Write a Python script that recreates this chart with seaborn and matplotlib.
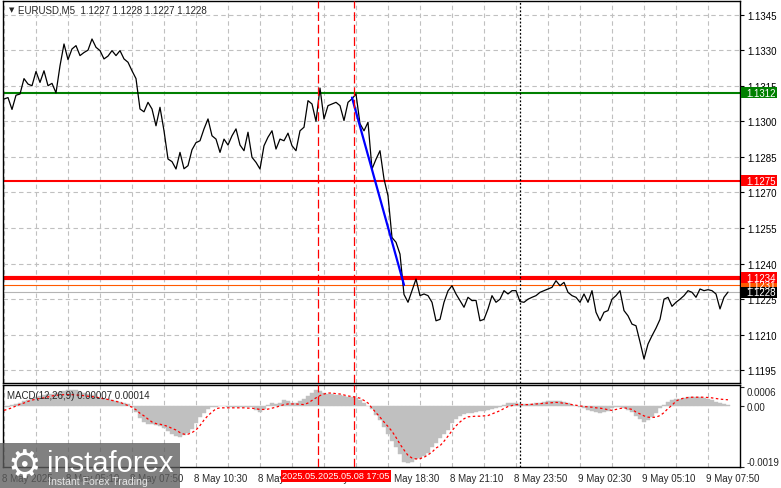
import numpy as np
import pandas as pd
import matplotlib
matplotlib.use("Agg")
import matplotlib.pyplot as plt
import matplotlib.dates as mdates
import matplotlib.transforms as mtransforms
from matplotlib.patches import Rectangle
import seaborn as sns

# EURUSD M5 closes, one value every 10 minutes from 8 May 02:30
close = [
    1.13094, 1.13100, 1.13050, 1.13110, 1.13115, 1.13180, 1.13157, 1.13150, 1.13210, 1.13164,
    1.13213, 1.13150, 1.13160, 1.13120, 1.13234, 1.13326, 1.13260, 1.13305, 1.13319, 1.13277,
    1.13290, 1.13300, 1.13347, 1.13312, 1.13298, 1.13263, 1.13275, 1.13298, 1.13277, 1.13298,
    1.13263, 1.13249, 1.13213, 1.13180, 1.13052, 1.13040, 1.13080, 1.13052, 1.12981, 1.13059,
    1.12960, 1.12841, 1.12830, 1.12799, 1.12869, 1.12800, 1.12813, 1.12880, 1.12910, 1.12918,
    1.12968, 1.13010, 1.12939, 1.12925, 1.12869, 1.12925, 1.12900, 1.12939, 1.12968, 1.12900,
    1.12876, 1.12954, 1.12848, 1.12827, 1.12799, 1.12897, 1.12933, 1.12960, 1.12883, 1.12925,
    1.12918, 1.12950, 1.12897, 1.12876, 1.12960, 1.12975, 1.13087, 1.13073, 1.13000, 1.13140,
    1.13010, 1.13066, 1.13073, 1.13080, 1.13066, 1.13003, 1.13080, 1.13095, 1.13115, 1.12990,
    1.12960, 1.12996, 1.12799, 1.12840, 1.12876, 1.12757, 1.12686, 1.12510, 1.12490, 1.12440,
    1.12270, 1.12237, 1.12286, 1.12335, 1.12265, 1.12272, 1.12265, 1.12237, 1.12159, 1.12165,
    1.12237, 1.12285, 1.12307, 1.12272, 1.12244, 1.12216, 1.12258, 1.12244, 1.12245, 1.12159,
    1.12165, 1.12209, 1.12265, 1.12237, 1.12250, 1.12286, 1.12272, 1.12286, 1.12286, 1.12240,
    1.12237, 1.12250, 1.12258, 1.12265, 1.12279, 1.12286, 1.12293, 1.12300, 1.12328, 1.12307,
    1.12321, 1.12279, 1.12265, 1.12258, 1.12237, 1.12272, 1.12237, 1.12286, 1.12195, 1.12159,
    1.12195, 1.12202, 1.12250, 1.12265, 1.12286, 1.12202, 1.12180, 1.12145, 1.12138, 1.12070,
    1.11998, 1.12061, 1.12096, 1.12128, 1.12165, 1.12250, 1.12258, 1.12220, 1.12237, 1.12250,
    1.12265, 1.12286, 1.12279, 1.12258, 1.12293, 1.12286, 1.12290, 1.12286, 1.12272, 1.12209,
    1.12258, 1.12280,
]

# MACD main (histogram) and signal, in units of 0.00001
macd_main = [
    -4, -2, 2, 6, 10, 15, 19, 23, 27, 30,
    33, 36, 38, 41, 43, 46, 48, 49, 48, 44,
    41, 36, 33, 29, 25, 22, 20, 18, 16, 12,
    9, 6, -2, -20, -38, -50, -55, -57, -60, -64,
    -70, -77, -87, -94, -96, -90, -83, -71, -52, -33,
    -21, -10, -4, -2, -1, -1, -2, -2, -2, -3,
    -2, -2, -4, -12, -19, -9, 4, 8, 6, 10,
    17, 15, 9, 10, 15, 22, 32, 40, 48, 46,
    40, 37, 37, 35, 33, 31, 29, 29, 25, 17,
    8, 0, -9, -27, -44, -67, -87, -110, -129, -150,
    -173, -179, -173, -166, -162, -155, -145, -129, -114, -100,
    -87, -75, -54, -40, -31, -25, -23, -21, -19, -17,
    -15, -12, -10, -7, -3, 3, 8, 9, 8, 6,
    6, 6, 6, 8, 10, 12, 15, 15, 15, 15,
    11, 8, 4, 0, -4, -8, -12, -15, -19, -21,
    -19, -15, -8, -4, -4, -6, -12, -19, -31, -42,
    -50, -44, -35, -23, -8, 4, 12, 17, 21, 23,
    25, 27, 29, 29, 27, 25, 21, 17, 12, 8,
    6, 4,
]
macd_signal = [
    -14, -10, -6, 0, 5, 9, 14, 18, 21, 23,
    25, 28, 31, 33, 34, 35, 35, 35, 34, 33,
    32, 30, 29, 27, 25, 22, 20, 17, 14, 11,
    6, 1, -4, -12, -23, -31, -41, -50, -55, -57,
    -60, -64, -70, -75, -83, -88, -88, -83, -75, -61,
    -44, -30, -19, -9, -6, -6, -6, -6, -6, -6,
    -6, -7, -7, -9, -11, -11, -10, -7, -4, 0,
    4, 6, 6, 6, 5, 4, 9, 17, 25, 32,
    37, 40, 40, 38, 37, 34, 31, 29, 27, 24,
    17, 9, -7, -21, -35, -50, -64, -79, -98, -119,
    -137, -154, -162, -165, -164, -160, -152, -144, -131, -124,
    -110, -94, -77, -62, -50, -40, -34, -33, -32, -32,
    -31, -30, -25, -20, -15, -8, -2, 1, 4, 4,
    4, 4, 5, 6, 7, 8, 9, 10, 11, 10,
    8, 7, 4, 2, 0, -2, -3, -4, -6, -7,
    -9, -12, -14, -11, -8, -6, -8, -11, -19, -25,
    -31, -35, -36, -35, -30, -21, -8, 2, 15, 21,
    24, 26, 27, 27, 27, 27, 26, 25, 23, 21,
    20, 19,
]

price_ticks = [1.1195, 1.1210, 1.1225, 1.1240, 1.1255, 1.1270, 1.1285, 1.1300, 1.1315, 1.1330, 1.1345]
macd_ticks = [0.0006, 0.0, -0.0019]
macd_tick_labels = ["0.0006", "0.00", "-0.0019"]

x_labels = ["8 May 2025", "8 May 05:10", "8 May 07:50", "8 May 10:30", "8 May 13:10", "8 May 15:50",
            "8 May 18:30", "8 May 21:10", "8 May 23:50", "9 May 02:30", "9 May 05:10", "9 May 07:50"]

# levels: (price, colour, width, label colour)
levels = [
    (1.1312, "#008000", 1.5),
    (1.1275, "#ff0000", 1.5),
    (1.1234, "#ff0000", 3.0),
    (1.1231, "#ff5a00", 0.8),
    (1.1228, "#b4b4b4", 0.8),
]
level_labels = [
    (1.1231, "1.1231", "#ff5a00"),
    (1.1312, "1.1312", "#008000"),
    (1.1275, "1.1275", "#ff0000"),
    (1.1234, "1.1234", "#ff0000"),
    (1.1228, "1.1228", "#000000"),
]

blue_times = pd.to_datetime(["2025-05-08 17:00", "2025-05-08 19:10"])
blue_prices = [1.1310, 1.1231]
red_vlines = pd.to_datetime(["2025-05-08 15:35", "2025-05-08 17:05"])
red_vline_labels = ["2025.05.08 15:35", "2025.05.08 17:05"]
day_sep = pd.Timestamp("2025-05-09 00:00")

times = pd.date_range("2025-05-08 02:30", periods=len(close), freq="10min")
grid_times = pd.date_range("2025-05-08 02:30", periods=23, freq="80min")
x_left = pd.Timestamp("2025-05-08 02:27:30")
x_right = pd.Timestamp("2025-05-09 09:10")

sns.set_style("white")
plt.rcParams["font.family"] = ["Liberation Sans", "DejaVu Sans"]
plt.rcParams["font.size"] = 7

W, H = 781, 489
fig = plt.figure(figsize=(W / 100, H / 100), dpi=100)


def px_rect(x0, y0, x1, y1):
    return [x0 / W, 1 - y1 / H, (x1 - x0) / W, (y1 - y0) / H]


ax = fig.add_axes(px_rect(3, 2, 740, 384))
ax2 = fig.add_axes(px_rect(3, 386, 740, 468), sharex=ax)

grid_kw = dict(color="#c0c0c0", linestyle=(0, (4, 3)), linewidth=0.8)

# ---- price panel
for price, col, lw in levels:
    ax.axhline(price, color=col, linewidth=lw, zorder=2)
sns.lineplot(x=times, y=close, ax=ax, color="black", linewidth=0.9, zorder=3)
sns.lineplot(x=blue_times, y=blue_prices, ax=ax, color="#0000ff", linewidth=1.6, zorder=4)

ax.set_xlim(x_left, x_right)
ax.set_ylim(1.118967, 1.135072)
ax.set_xticks(grid_times)
ax.set_yticks(price_ticks)
ax.set_yticklabels([f"{p:.4f}" for p in price_ticks])
ax.yaxis.tick_right()
ax.tick_params(axis="y", length=3, pad=2, labelsize=7, colors="black")
ax.tick_params(axis="x", length=0, labelbottom=False)
ax.grid(True, **grid_kw)
ax.set_xlabel("")
ax.set_ylabel("")

# ---- MACD panel
xnum = mdates.date2num(times)
ax2.bar(xnum, np.array(macd_main) * 1e-5, width=10 / 1440, color="#c0c0c0",
        edgecolor="#c0c0c0", linewidth=0.3, zorder=2)
sns.lineplot(x=times, y=np.array(macd_signal) * 1e-5, ax=ax2, color="#ff0000",
             linewidth=0.9, linestyle=(0, (2, 2)), zorder=3)
ax2.set_ylim(-0.0019, 0.00065)
ax2.set_yticks(macd_ticks)
ax2.set_yticklabels(macd_tick_labels)
ax2.yaxis.tick_right()
ax2.tick_params(axis="y", length=3, pad=2, labelsize=7)
ylabs = ax2.get_yticklabels()
ylabs[0].set_va("top")
ylabs[2].set_va("bottom")
ax2.set_xticks(grid_times)
ax2.set_xticklabels([x_labels[i // 2] if i % 2 == 0 else "" for i in range(len(grid_times))])
ax2.tick_params(axis="x", length=2, pad=2, labelsize=7)
shift = mtransforms.ScaledTranslation(-2 / 100, 0, fig.dpi_scale_trans)
for lab in ax2.get_xticklabels():
    lab.set_ha("left")
    lab.set_transform(lab.get_transform() + shift)
ax2.grid(True, axis="x", **grid_kw)
ax2.set_xlabel("")
ax2.set_ylabel("")

for a in (ax, ax2):
    for s in a.spines.values():
        s.set_color("black")
        s.set_linewidth(1)
    for t in red_vlines:
        a.axvline(t, color="#ff0000", linewidth=0.9, linestyle=(0, (7, 3)), zorder=5)
    a.axvline(day_sep, color="black", linewidth=0.9, linestyle=(0, (1.5, 1.5)), zorder=5)

# ---- coloured price labels on the right
trans = mtransforms.blended_transform_factory(ax.transAxes, ax.transData)
ylo, yhi = ax.get_ylim()
ppx = (yhi - ylo) / 382
for price, txt, col in level_labels:
    ax.add_patch(Rectangle((1.0014, price - 5.5 * ppx), 0.0488, 11 * ppx, transform=trans,
                           facecolor=col, edgecolor="none", clip_on=False, zorder=6))
    ax.text(1.0081, price, txt, transform=trans, ha="left", va="center", color="white",
            fontsize=7, clip_on=False, zorder=7)

# ---- header texts
ax.text(0.0075, 0.978, "\u25bc", transform=ax.transAxes, fontsize=5, family="DejaVu Sans",
        ha="left", va="center")
ax.text(0.0205, 0.978, "EURUSD,M5  1.1227 1.1228 1.1227 1.1228", transform=ax.transAxes,
        ha="left", va="center", fontsize=7)
ax2.text(0.0055, 0.88, "MACD(12,26,9) 0.00007 0.00014", transform=ax2.transAxes,
         ha="left", va="center", fontsize=7, zorder=6)

# ---- crosshair date labels under the vertical lines
trans2 = mtransforms.blended_transform_factory(ax2.transData, ax2.transAxes)
for t, txt in zip(red_vlines, red_vline_labels):
    ax2.text(t, -0.106, txt, transform=trans2, ha="center", va="center", color="white",
             fontsize=6.6, clip_on=False, zorder=10,
             bbox=dict(boxstyle="square,pad=0.15", facecolor="#ff0000", edgecolor="none"))

# ---- watermark
ov = fig.add_axes([0, 0, 1, 1])
ov.set_xlim(0, W)
ov.set_ylim(H, 0)
ov.axis("off")
ov.add_patch(Rectangle((0, 444), 180, 45, facecolor="#5e5e5e", alpha=0.78, edgecolor="none"))
ov.text(24, 467, "\u2699", family="DejaVu Sans", fontsize=27, color="white",
        ha="center", va="center")
ov.text(47, 471.5, "instaforex", fontsize=21, color="white", ha="left", va="baseline")
ov.text(48, 485, "Instant Forex Trading", fontsize=7.6, color="#e6e6e6", ha="left", va="baseline")

fig.savefig("out.png", dpi=100, facecolor="white")
